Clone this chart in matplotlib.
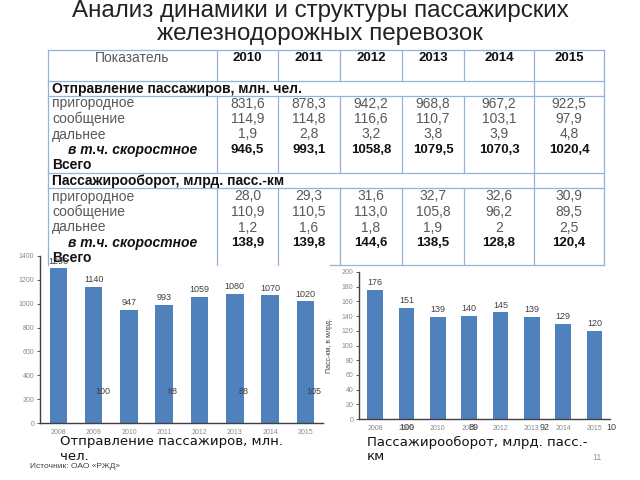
import matplotlib
matplotlib.use("Agg")
import matplotlib.pyplot as plt
import numpy as np

plt.rcParams['font.family'] = ['Liberation Sans', 'DejaVu Sans']

# ---- data ----
title_lines = ["Анализ динамики и структуры пассажирских", "железнодорожных перевозок"]
table_years = ["2010", "2011", "2012", "2013", "2014", "2015"]
row_labels = ["пригородное", "сообщение", "дальнее", "в т.ч. скоростное", "Всего"]
section1 = "Отправление пассажиров, млн. чел."
sec1_vals = [
    ["831,6", "878,3", "942,2", "968,8", "967,2", "922,5"],
    ["114,9", "114,8", "116,6", "110,7", "103,1", "97,9"],
    ["1,9", "2,8", "3,2", "3,8", "3,9", "4,8"],
    ["946,5", "993,1", "1058,8", "1079,5", "1070,3", "1020,4"],
]
section2 = "Пассажирооборот, млрд. пасс.-км"
sec2_vals = [
    ["28,0", "29,3", "31,6", "32,7", "32,6", "30,9"],
    ["110,9", "110,5", "113,0", "105,8", "96,2", "89,5"],
    ["1,2", "1,6", "1,8", "1,9", "2", "2,5"],
    ["138,9", "139,8", "144,6", "138,5", "128,8", "120,4"],
]

chart_years = ["2008", "2009", "2010", "2011", "2012", "2013", "2014", "2015"]
passengers = [1296, 1140, 947, 993, 1059, 1080, 1070, 1020]
pass_km = [176, 151, 139, 140, 145, 139, 129, 120]
# stray labels left over on the slide
left_extra = ["100", "88", "88", "105"]
left_extra_pos = [1.25, 3.25, 5.25, 7.25]
right_extra = ["100", "89", "92", "10"]
right_extra_pos = [1.0, 3.15, 5.4, 7.55]

blue = "#4F81BD"
grid_c = "#95B3D7"
gray = "#595959"

fig = plt.figure(figsize=(6.4, 4.8), dpi=100)
bg = fig.add_axes([0, 0, 1, 1])
bg.set_xlim(0, 640)
bg.set_ylim(480, 0)
bg.axis('off')

bg.text(320, 11, title_lines[0], ha='center', va='center', fontsize=17.4, color='#222222')
bg.text(320, 34, title_lines[1], ha='center', va='center', fontsize=17.4, color='#222222')

# ---- table ----
cols = [48, 217, 278, 340, 402, 464, 534, 604]
hlines = [50, 81, 96, 173, 188]
for y in hlines:
    bg.plot([cols[0], cols[-1]], [y, y], color=grid_c, lw=0.9)
bg.plot([330, cols[-1]], [265, 265], color=grid_c, lw=0.9)
# vertical lines
for x in cols:
    if x in (cols[0], cols[-2], cols[-1]):
        bg.plot([x, x], [50, 265], color=grid_c, lw=0.9)
    else:
        for y0, y1 in [(50, 81), (96, 173), (188, 265)]:
            bg.plot([x, x], [y0, y1], color=grid_c, lw=0.9)

centers = [(cols[i] + cols[i + 1]) / 2 for i in range(len(cols) - 1)]
fs = 10
bg.text(centers[0], 58, "Показатель", ha='center', va='center', fontsize=fs, color=gray)
for c, yr in zip(centers[1:], table_years):
    bg.text(c, 58, yr, ha='center', va='center', fontsize=fs - 0.5, weight='bold', color='#111111')

def block(y_sec, y_rows, name, vals):
    bg.text(52, y_sec, name, ha='left', va='center', fontsize=fs, weight='bold', color='#111111')
    for i, lab in enumerate(row_labels):
        y = y_rows[i]
        if i < 3:
            bg.text(52, y, lab, ha='left', va='center', fontsize=fs, color=gray)
        elif i == 3:
            bg.text(68, y, lab, ha='left', va='center', fontsize=fs, color='#111111',
                    weight='bold', style='italic')
        else:
            bg.text(52, y, lab, ha='left', va='center', fontsize=fs, color='#111111', weight='bold')
    for i, row in enumerate(vals):
        for c, v in zip(centers[1:], row):
            if i == 3:
                bg.text(c, y_rows[i], v, ha='center', va='center', fontsize=fs - 0.5,
                        weight='bold', color='#111111')
            else:
                bg.text(c, y_rows[i], v, ha='center', va='center', fontsize=fs, color=gray)

block(88.5, [103.5, 119, 134.5, 150, 165], section1, sec1_vals)
block(181.5, [196.5, 212, 227.5, 243, 258], section2, sec2_vals)

# ---- bar charts ----
def bar_chart(rect, values, ymax, step, extra, extra_pos, extra_y, ylabel=None):
    ax = fig.add_axes(rect)
    ax.patch.set_alpha(0)
    x = np.arange(len(values))
    bars = ax.bar(x, values, width=0.5, color=blue, zorder=2)
    ax.set_xlim(-0.52, len(values) - 0.5)
    ax.set_ylim(0, ymax)
    ax.set_yticks(np.arange(0, ymax + 1, step))
    ax.set_xticks(x)
    ax.set_xticklabels(chart_years)
    for s in ('top', 'right'):
        ax.spines[s].set_visible(False)
    for s in ('left', 'bottom'):
        ax.spines[s].set_color('#404040')
        ax.spines[s].set_linewidth(1.0)
    ax.tick_params(axis='both', labelsize=5, colors='#404040', labelcolor='#8a8a8a',
                   length=2, width=0.6, pad=2)
    ax.tick_params(axis='x', length=0, pad=4)
    for b, v in zip(bars, values):
        ax.annotate(str(v), (b.get_x() + b.get_width() / 2, v), xytext=(0, 2),
                    textcoords='offset points', ha='center', va='bottom',
                    fontsize=6.5, color='#404040')
    for t, p in zip(extra, extra_pos):
        ax.text(p, extra_y, t, ha='center', va='center', fontsize=6.5,
                color='#404040', clip_on=False)
    if ylabel:
        ax.set_ylabel(ylabel, fontsize=5, color='#404040', labelpad=6)
    return ax

axl = bar_chart([40 / 640, (480 - 423) / 480, 283 / 640, 167 / 480],
                passengers, 1400, 200, left_extra, left_extra_pos, 268)
axr = bar_chart([359 / 640, (480 - 419) / 480, 251 / 640, 147 / 480],
                pass_km, 200, 20, right_extra, right_extra_pos, -12,
                ylabel="Пасс-км, в млрд.")

# captions
cap_kw = dict(ha='left', va='center', fontsize=9.5, color='#111111', family=['DejaVu Sans'])
bg.text(60, 442, "Отправление пассажиров, млн.", **cap_kw)
bg.text(60, 457, "чел.", **cap_kw)
bg.text(367, 442, "Пассажирооборот, млрд. пасс.-", **cap_kw)
bg.text(367, 457, "км", **cap_kw)
bg.text(30, 466, "Источник: ОАО «РЖД»", ha='left', va='center', fontsize=6, color='#404040')
bg.text(597, 458, "11", ha='center', va='center', fontsize=6.5, color='#999999')

fig.savefig("out.png", dpi=100)
